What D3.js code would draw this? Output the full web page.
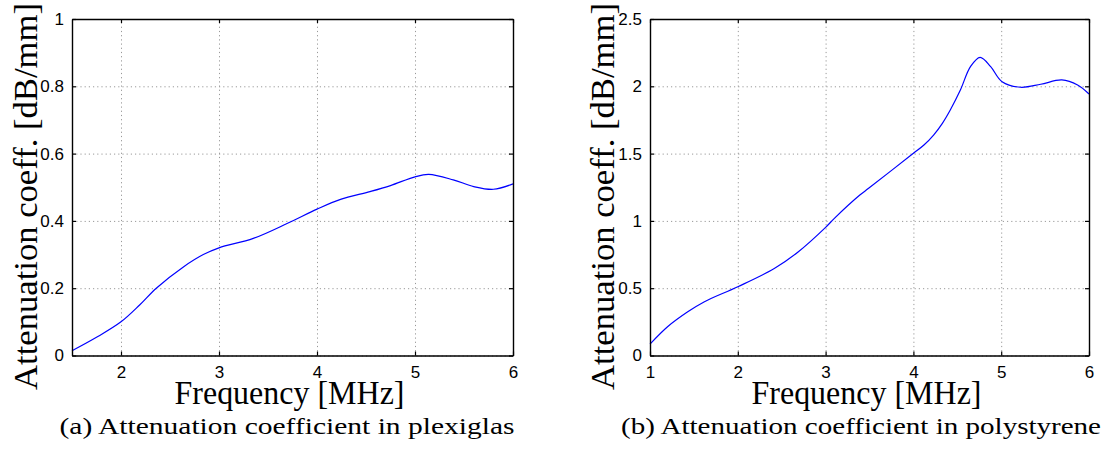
<!DOCTYPE html>
<html>
<head>
<meta charset="utf-8">
<script src="https://cdn.jsdelivr.net/npm/d3@7"></script>
<style>
  body { margin: 0; background: #fff; }
  svg { display: block; }
</style>
</head>
<body>
<svg id="chart" width="1105" height="451"></svg>
<script>
// plexiglas curve (left panel)
var plexiFreq  = [1.5, 1.75, 2.0, 2.19, 2.36, 2.64, 2.84, 3.0, 3.35, 3.7, 4.0, 4.24, 4.54, 4.75, 5.0, 5.14, 5.39, 5.6, 5.8, 6.0];
var plexiAtten = [0.014, 0.054, 0.100, 0.150, 0.200, 0.264, 0.300, 0.320, 0.348, 0.393, 0.435, 0.464, 0.487, 0.505, 0.531, 0.538, 0.522, 0.502, 0.494, 0.510];

// polystyrene curve (right panel)
var polyFreq  = [1.0, 1.2, 1.43, 1.62, 2.0, 2.42, 2.69, 3.0, 3.1, 3.39, 3.49, 4.0, 4.12, 4.23, 4.33, 4.42, 4.535, 4.65, 4.76, 4.88, 5.01, 5.22, 5.45, 5.69, 5.87, 6.0];
var polyAtten = [0.085, 0.214, 0.325, 0.40, 0.511, 0.648, 0.771, 0.952, 1.019, 1.192, 1.242, 1.502, 1.564, 1.638, 1.725, 1.824, 1.972, 2.146, 2.215, 2.146, 2.034, 1.993, 2.015, 2.047, 2.01, 1.943];

// tick values
var plexiXTicks = [2, 3, 4, 5, 6];
var plexiYTicks = [0, 0.2, 0.4, 0.6, 0.8, 1];
var polyXTicks  = [1, 2, 3, 4, 5, 6];
var polyYTicks  = [0, 0.5, 1, 1.5, 2, 2.5];

var xLabel = "Frequency [MHz]";
var yLabel = "Attenuation coeff. [dB/mm]";
var captions = ["(a) Attenuation coefficient in plexiglas", "(b) Attenuation coefficient in polystyrene"];

var svg = d3.select("#chart");
var serif = "'Liberation Serif', 'Times New Roman', serif";
var sans = "'Liberation Sans', Arial, Helvetica, sans-serif";

function drawPanel(opt) {
  var x = d3.scaleLinear().domain(opt.xDomain).range([opt.left, opt.right]);
  var y = d3.scaleLinear().domain(opt.yDomain).range([opt.bottom, opt.top]);
  var g = svg.append("g");
  var w = opt.right - opt.left, h = opt.bottom - opt.top;

  // dotted grid
  g.append("g")
    .attr("transform", "translate(0," + opt.bottom + ")")
    .call(d3.axisBottom(x).tickValues(opt.xTicks).tickSize(-h).tickFormat(""))
    .call(function(s) {
      s.select(".domain").remove();
      s.selectAll("line").attr("stroke", "#999").attr("stroke-dasharray", "1.2,3");
    });
  g.append("g")
    .attr("transform", "translate(" + opt.left + ",0)")
    .call(d3.axisLeft(y).tickValues(opt.yTicks).tickSize(-w).tickFormat(""))
    .call(function(s) {
      s.select(".domain").remove();
      s.selectAll("line").attr("stroke", "#999").attr("stroke-dasharray", "1.2,3");
    });

  // curve
  var line = d3.line()
    .x(function(d) { return x(d[0]); })
    .y(function(d) { return y(d[1]); })
    .curve(d3.curveCatmullRom.alpha(0.5));
  var pts = opt.xs.map(function(v, i) { return [v, opt.ys[i]]; });
  g.append("path")
    .datum(pts)
    .attr("d", line)
    .attr("fill", "none")
    .attr("stroke", "#0000ff")
    .attr("stroke-width", 1.2);

  // axes with inward ticks
  var fmt = function(d) { return String(d); };
  var bottomAx = g.append("g")
    .attr("transform", "translate(0," + opt.bottom + ")")
    .call(d3.axisBottom(x).tickValues(opt.xTicks).tickSizeInner(-4).tickSizeOuter(0).tickPadding(10).tickFormat(fmt));
  var topAx = g.append("g")
    .attr("transform", "translate(0," + opt.top + ")")
    .call(d3.axisTop(x).tickValues(opt.xTicks).tickSizeInner(-4).tickSizeOuter(0).tickFormat(""));
  var leftAx = g.append("g")
    .attr("transform", "translate(" + opt.left + ",0)")
    .call(d3.axisLeft(y).tickValues(opt.yTicks).tickSizeInner(-4).tickSizeOuter(0).tickPadding(8).tickFormat(fmt));
  var rightAx = g.append("g")
    .attr("transform", "translate(" + opt.right + ",0)")
    .call(d3.axisRight(y).tickValues(opt.yTicks).tickSizeInner(-4).tickSizeOuter(0).tickFormat(""));
  [bottomAx, topAx, leftAx, rightAx].forEach(function(a) {
    a.selectAll(".domain").attr("stroke", "#000").attr("stroke-width", 1.4);
    a.selectAll(".tick line").attr("stroke", "#000").attr("stroke-width", 1.2);
    a.selectAll("text").attr("font-family", sans).attr("font-size", 17).attr("fill", "#000");
  });
  bottomAx.selectAll("text").attr("dy", "0.71em");

  // labels
  svg.append("text")
    .attr("x", (opt.left + opt.right) / 2 - 3)
    .attr("y", 404)
    .attr("text-anchor", "middle")
    .attr("font-family", serif)
    .attr("font-size", 33)
    .attr("textLength", 230)
    .attr("lengthAdjust", "spacingAndGlyphs")
    .text(xLabel);
  svg.append("text")
    .attr("transform", "translate(" + opt.yLabelX + ",196.5) rotate(-90)")
    .attr("text-anchor", "middle")
    .attr("font-family", serif)
    .attr("font-size", 33)
    .attr("textLength", 387)
    .attr("lengthAdjust", "spacingAndGlyphs")
    .text(yLabel);
  svg.append("text")
    .attr("x", opt.capX)
    .attr("y", 434)
    .attr("text-anchor", "middle")
    .attr("font-family", serif)
    .attr("font-size", 23)
    .attr("textLength", opt.capW)
    .attr("lengthAdjust", "spacingAndGlyphs")
    .text(opt.caption);
}

drawPanel({
  xDomain: [1.5, 6], yDomain: [0, 1],
  left: 72, right: 513, top: 19, bottom: 355.5,
  xTicks: plexiXTicks, yTicks: plexiYTicks,
  xs: plexiFreq, ys: plexiAtten,
  yLabelX: 37, capX: 287, capW: 455, caption: captions[0]
});

drawPanel({
  xDomain: [1, 6], yDomain: [0, 2.5],
  left: 650, right: 1089, top: 19, bottom: 355.5,
  xTicks: polyXTicks, yTicks: polyYTicks,
  xs: polyFreq, ys: polyAtten,
  yLabelX: 614, capX: 861, capW: 480, caption: captions[1]
});
</script>
</body>
</html>
